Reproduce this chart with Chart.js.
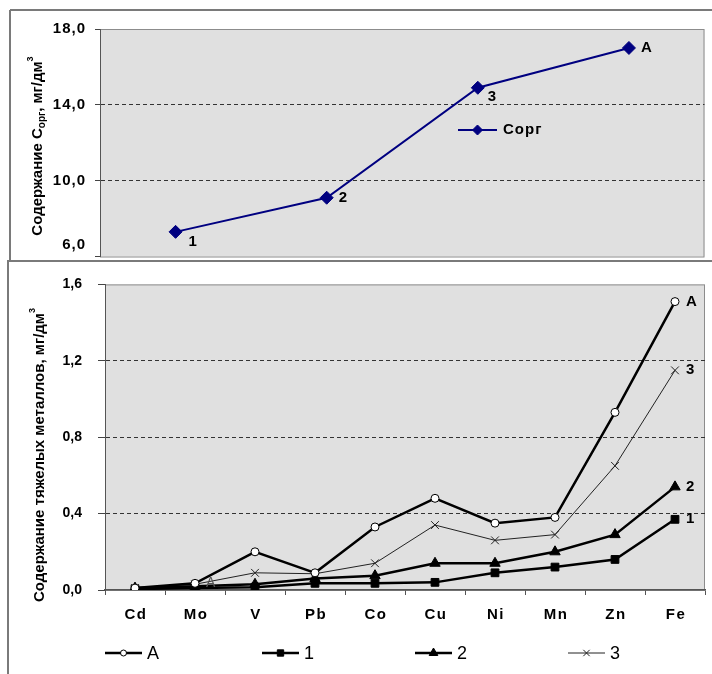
<!DOCTYPE html>
<html>
<head>
<meta charset="utf-8">
<script src="https://cdn.jsdelivr.net/npm/chart.js@4.4.0/dist/chart.umd.min.js"></script>
<style>
  html, body { margin: 0; padding: 0; background: #fff; }
  #wrap { position: relative; width: 712px; height: 674px; overflow: hidden; }
  canvas { position: absolute; left: 0; }
  #top { top: 0; }
  #bottom { top: 260px; }
</style>
</head>
<body>
<div id="wrap">
  <canvas id="top" width="712" height="264"></canvas>
  <canvas id="bottom" width="712" height="414"></canvas>
</div>
<script>
// --- top chart: Corg at stations 1, 2, 3, A
const corgPoints = ['1', '2', '3', 'A'];
const corgValues = [7.3, 9.1, 14.9, 17.0];
const corgTicks = [6, 10, 14, 18];

// --- bottom chart: heavy metals
const metals = ['Cd', 'Mo', 'V', 'Pb', 'Co', 'Cu', 'Ni', 'Mn', 'Zn', 'Fe'];
const seriesA = [0.01, 0.035, 0.20, 0.09, 0.33, 0.48, 0.35, 0.38, 0.93, 1.51];
const series1 = [0.005, 0.01, 0.015, 0.035, 0.035, 0.04, 0.09, 0.12, 0.16, 0.37];
const series2 = [0.01, 0.02, 0.03, 0.06, 0.075, 0.14, 0.14, 0.20, 0.29, 0.54];
const series3 = [0.01, 0.03, 0.09, 0.085, 0.14, 0.34, 0.26, 0.29, 0.65, 1.15];
const metalTicks = [0, 0.4, 0.8, 1.2, 1.6];

const FONT = "'Liberation Sans', Arial, sans-serif";
const PLOT_BG = '#e0e0e0';
const fmt = v => v.toFixed(1).replace('.', ',');

function rotatedTitle(ctx, cx, cy, parts) {
  ctx.save();
  ctx.translate(cx, cy);
  ctx.rotate(-Math.PI / 2);
  ctx.fillStyle = '#000';
  ctx.textBaseline = 'alphabetic';
  ctx.textAlign = 'left';
  let total = 0;
  parts.forEach(p => { ctx.font = `bold ${p.size}px ${FONT}`; p.w = ctx.measureText(p.t).width; total += p.w; });
  let x = -total / 2;
  parts.forEach(p => { ctx.font = `bold ${p.size}px ${FONT}`; ctx.fillText(p.t, x, p.shift); x += p.w; });
  ctx.restore();
}

function plotFrame(frameLines) {
  return {
    id: 'plotFrame',
    beforeDraw(chart) {
      const { ctx, chartArea: a } = chart;
      ctx.save();
      ctx.fillStyle = '#fff';
      ctx.fillRect(0, 0, chart.width, chart.height);
      ctx.fillStyle = PLOT_BG;
      ctx.fillRect(a.left, a.top, a.right - a.left, a.bottom - a.top);
      ctx.strokeStyle = '#8c8c8c';
      ctx.lineWidth = 1;
      ctx.strokeRect(a.left + 0.5, a.top + 0.5, a.right - a.left - 1, a.bottom - a.top);
      ctx.strokeStyle = '#7a7a7a';
      ctx.lineWidth = 2;
      frameLines.forEach(l => {
        ctx.beginPath(); ctx.moveTo(l[0], l[1]); ctx.lineTo(l[2], l[3]); ctx.stroke();
      });
      ctx.restore();
    }
  };
}

function pointLabels(items) {
  return {
    id: 'pointLabels',
    afterDatasetsDraw(chart) {
      const ctx = chart.ctx;
      ctx.save();
      ctx.textAlign = 'left';
      ctx.textBaseline = 'middle';
      items.forEach(it => {
        const pt = chart.getDatasetMeta(it.ds).data[it.i];
        ctx.font = it.font;
        ctx.fillStyle = it.color || '#000';
        ctx.fillText(it.text, pt.x + it.dx, pt.y + it.dy);
      });
      ctx.restore();
    }
  };
}

function legendItem(ctx, ds, x1, x2, y, r) {
  ctx.save();
  ctx.strokeStyle = ds.borderColor;
  ctx.lineWidth = ds.borderWidth;
  ctx.beginPath(); ctx.moveTo(x1, y); ctx.lineTo(x2, y); ctx.stroke();
  ctx.fillStyle = ds.pointBackgroundColor || ds.backgroundColor;
  ctx.strokeStyle = ds.pointBorderColor || ds.borderColor;
  ctx.lineWidth = ds.pointBorderWidth || 1;
  Chart.helpers.drawPoint(ctx, { pointStyle: ds.pointStyle, radius: r, rotation: 0, borderWidth: ds.pointBorderWidth || 1 }, (x1 + x2) / 2, y);
  ctx.restore();
}

// ---------------- top chart ----------------
const corgSet = {
  label: 'Сорг', data: corgValues,
  borderColor: '#000080', backgroundColor: '#000080',
  pointBackgroundColor: '#000080', pointBorderColor: '#000080',
  borderWidth: 2, pointStyle: 'rectRot', pointRadius: 6.5, pointBorderWidth: 1, tension: 0
};

new Chart(document.getElementById('top'), {
  type: 'line',
  data: { labels: corgPoints, datasets: [corgSet] },
  options: {
    responsive: false, animation: false, devicePixelRatio: 1,
    layout: { padding: { top: 29, right: 3, bottom: 2, left: 0 } },
    plugins: { legend: { display: false }, tooltip: { enabled: false } },
    scales: {
      x: { display: false, offset: true },
      y: {
        min: corgTicks[0], max: corgTicks[corgTicks.length - 1],
        afterBuildTicks: s => { s.ticks = corgTicks.map(v => ({ value: v })); },
        afterFit: s => { s.width = 100; },
        ticks: { display: false },
        grid: {
          color: c => (c.index === 0 || c.index === corgTicks.length - 1) ? 'rgba(0,0,0,0)' : '#333',
          tickColor: '#444', tickWidth: 1, tickLength: 5
        },
        border: { display: true, color: '#555', width: 1, dash: [4, 3] }
      }
    }
  },
  plugins: [
    plotFrame([[10, 10, 712, 10], [10, 10, 10, 264]]),
    pointLabels(corgPoints.map((t, i) => ({
      ds: 0, i, text: t, font: `bold 15px ${FONT}`,
      dx: [13, 12, 10, 12][i], dy: [10, 0, 9, 0][i]
    }))),
    {
      id: 'topText',
      afterDraw(chart) {
        const { ctx, chartArea: a } = chart;
        const ys = chart.scales.y;
        ctx.save();
        ctx.letterSpacing = '1px';
        ctx.font = `bold 15px ${FONT}`;
        ctx.fillStyle = '#000';
        ctx.textAlign = 'right';
        ctx.textBaseline = 'middle';
        corgTicks.forEach(v => {
          const y = Math.min(ys.getPixelForValue(v), a.bottom - 12);
          ctx.fillText(fmt(v), a.left - 14, y);
        });
        ctx.textAlign = 'left';
        ctx.fillText(corgSet.label, 503, 130);
        ctx.restore();
        legendItem(ctx, corgSet, 458, 497, 130, 5);
        rotatedTitle(ctx, 42, 146, [
          { t: 'Содержание С', size: 15, shift: 0 },
          { t: 'орг', size: 10, shift: 3 },
          { t: ', мг/дм', size: 15, shift: 0 },
          { t: '3', size: 9, shift: -9 }
        ]);
      }
    }
  ]
});

// ---------------- bottom chart ----------------
const metalSets = [
  { label: 'A', data: seriesA, borderColor: '#000', backgroundColor: '#fff', pointBackgroundColor: '#fff', pointBorderColor: '#000',
    borderWidth: 2.5, pointStyle: 'circle', pointRadius: 4, pointBorderWidth: 1, tension: 0 },
  { label: '1', data: series1, borderColor: '#000', backgroundColor: '#000', pointBackgroundColor: '#000', pointBorderColor: '#000',
    borderWidth: 2.5, pointStyle: 'rect', pointRadius: 5.5, pointBorderWidth: 1, tension: 0 },
  { label: '2', data: series2, borderColor: '#000', backgroundColor: '#000', pointBackgroundColor: '#000', pointBorderColor: '#000',
    borderWidth: 2.5, pointStyle: 'triangle', pointRadius: 6, pointBorderWidth: 1, tension: 0 },
  { label: '3', data: series3, borderColor: '#222', backgroundColor: '#222', pointBackgroundColor: '#222', pointBorderColor: '#222',
    borderWidth: 1, pointStyle: 'crossRot', pointRadius: 5.5, pointBorderWidth: 1, tension: 0 }
];

const endLabels = metalSets.map((s, d) => ({ ds: d, i: metals.length - 1, text: s.label, font: `bold 15px ${FONT}`, dx: 11, dy: 0 }));
endLabels.push({ ds: 0, i: 1, text: 'A', font: `14px ${FONT}`, color: '#555', dx: 11, dy: 0 });

new Chart(document.getElementById('bottom'), {
  type: 'line',
  data: { labels: metals, datasets: metalSets },
  options: {
    responsive: false, animation: false, devicePixelRatio: 1,
    layout: { padding: { top: 21, right: 2, bottom: 0, left: 0 } },
    plugins: { legend: { display: false }, tooltip: { enabled: false } },
    scales: {
      x: {
        offset: true,
        afterFit: s => { s.height = 84; },
        ticks: { display: false },
        grid: { drawOnChartArea: false, offset: true, tickLength: 5, tickColor: '#555', tickWidth: 1 },
        border: { display: true, color: '#555', width: 1.5 }
      },
      y: {
        min: metalTicks[0], max: metalTicks[metalTicks.length - 1],
        afterBuildTicks: s => { s.ticks = metalTicks.map(v => ({ value: v })); },
        afterFit: s => { s.width = 105; },
        ticks: { font: { family: FONT, size: 14, weight: 'bold' }, color: '#000', padding: 16, callback: v => fmt(v) },
        grid: {
          color: c => (c.index === 0 || c.index === metalTicks.length - 1) ? 'rgba(0,0,0,0)' : '#333',
          tickColor: '#444', tickWidth: 1, tickLength: 7
        },
        border: { display: true, color: '#555', width: 1, dash: [4, 3] }
      }
    }
  },
  plugins: [
    plotFrame([[8, 1, 712, 1], [8, 0, 8, 414]]),
    pointLabels(endLabels),
    {
      id: 'bottomText',
      afterDraw(chart) {
        const { ctx, chartArea: a } = chart;
        const xs = chart.scales.x;
        ctx.save();
        ctx.letterSpacing = '1.5px';
        ctx.font = `bold 15px ${FONT}`;
        ctx.fillStyle = '#000';
        ctx.textAlign = 'center';
        ctx.textBaseline = 'middle';
        metals.forEach((m, i) => ctx.fillText(m, xs.getPixelForTick(i) + 1, a.bottom + 25));
        ctx.letterSpacing = '0px';
        ctx.font = `18px ${FONT}`;
        ctx.textAlign = 'left';
        const lx = [105, 262, 415, 568];
        metalSets.forEach((s, d) => {
          legendItem(ctx, s, lx[d], lx[d] + 37, 393, s.pointRadius - 1);
          ctx.fillStyle = '#000';
          ctx.fillText(s.label, lx[d] + 42, 394);
        });
        ctx.restore();
        rotatedTitle(ctx, 44, 195, [
          { t: 'Содержание тяжелых металлов, мг/дм', size: 15, shift: 0 },
          { t: '3', size: 9, shift: -9 }
        ]);
      }
    }
  ]
});
</script>
</body>
</html>
